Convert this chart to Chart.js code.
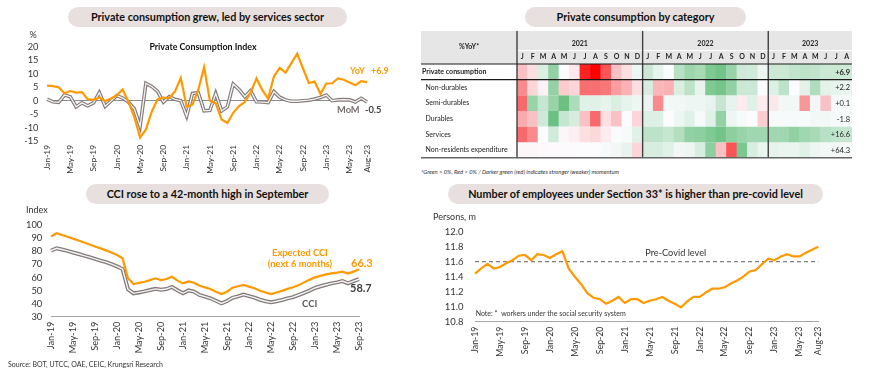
<!DOCTYPE html>
<html>
<head>
<meta charset="utf-8">
<script src="https://cdn.jsdelivr.net/npm/chart.js@4.4.0/dist/chart.umd.min.js"></script>
<style>
  body { margin: 0; width: 870px; height: 381px; background: #fff; position: relative; overflow: hidden; font-family: Lato, sans-serif; }
  .pill { position: absolute; height: 20px; line-height: 20px; background: #e8e0de; border-radius: 10px; text-align: center; font-weight: bold; font-size: 10.8px; color: #111; white-space: nowrap; }
  canvas { position: absolute; }
  .note { position: absolute; white-space: nowrap; color: #333; }
</style>
</head>
<body>
<div class="pill" style="left:68px;top:7px;width:279px">Private consumption grew, led by services sector</div>
<div class="pill" style="left:525px;top:7px;width:221px">Private consumption by category</div>
<div class="pill" style="left:86px;top:184px;width:243px">CCI rose to a 42-month high in September</div>
<div class="pill" style="left:448px;top:184px;width:375px">Number of employees under Section 33* is higher than pre-covid level</div>

<canvas id="pciChart" width="400" height="150" style="left:0;top:30px"></canvas>
<canvas id="heatChart" width="440" height="137" style="left:420px;top:28px"></canvas>
<canvas id="cciChart" width="400" height="165" style="left:0;top:200px"></canvas>
<canvas id="empChart" width="440" height="165" style="left:430px;top:200px"></canvas>

<div class="note" style="left:421px;top:168px;font-size:5.8px;font-style:italic">*Green &gt; 0%, Red &lt; 0% / Darker green (red) indicates stronger (weaker) momentum</div>
<div class="note" style="left:8px;top:360px;font-size:7px">Source: BOT, UTCC, OAE, CEIC, Krungsri Research</div>

<script>
// month labels Jan-19 .. Sep-23
const months = [
  'Jan-19', 'Feb-19', 'Mar-19', 'Apr-19', 'May-19', 'Jun-19', 'Jul-19', 'Aug-19', 'Sep-19', 'Oct-19', 'Nov-19', 'Dec-19',
  'Jan-20', 'Feb-20', 'Mar-20', 'Apr-20', 'May-20', 'Jun-20', 'Jul-20', 'Aug-20', 'Sep-20', 'Oct-20', 'Nov-20', 'Dec-20',
  'Jan-21', 'Feb-21', 'Mar-21', 'Apr-21', 'May-21', 'Jun-21', 'Jul-21', 'Aug-21', 'Sep-21', 'Oct-21', 'Nov-21', 'Dec-21',
  'Jan-22', 'Feb-22', 'Mar-22', 'Apr-22', 'May-22', 'Jun-22', 'Jul-22', 'Aug-22', 'Sep-22', 'Oct-22', 'Nov-22', 'Dec-22',
  'Jan-23', 'Feb-23', 'Mar-23', 'Apr-23', 'May-23', 'Jun-23', 'Jul-23', 'Aug-23', 'Sep-23'
];
const monthsToAug23 = months.slice(0, 56);

// Private consumption index, % (Jan-19 .. Aug-23)
const pciYoY = [
  5.6, 5.4, 5.0, 2.8, 3.6, 3.0, 3.2, 0.6, 0.3, 1.2, -0.2, 0.8,
  2.0, 4.2, -0.4, -6.0, -13.7, -10.7, -4.1, 0.5, 1.2, 1.0, 3.5, 8.5,
  -2.3, -1.5, 4.0, 12.5, 0.0, -1.0, -7.0, -8.3, -4.5, -2.0, -0.5, 3.0,
  8.3, 4.0, 0.8, 9.0, 12.2, 10.5, 14.0, 17.5, 12.0, 6.6, 7.1, 2.5,
  6.4, 6.5, 8.3, 7.8, 6.8, 5.8, 7.3, 6.9
];
const pciMoM = [
  0.6, -0.4, -0.6, 2.1, 1.5, -2.3, -0.8, -1.9, -0.8, 3.0, -2.1, -0.1,
  1.9, 1.0, -0.5, -3.0, -9.5, 6.5, 5.3, 3.5, -0.5, 1.5, 0.5, 0.0,
  -5.7, 2.7, 3.0, -3.8, -3.6, 2.7, -3.8, -2.3, 6.2, 4.2, 1.5, 3.7,
  -0.4, -0.5, -0.7, 3.4, 1.3, 0.3, -0.2, -0.2, 0.0, 0.2, 0.6, 1.2,
  2.1, 0.0, 0.3, 0.4, 0.3, -0.5, 0.9, -0.5
];

// Consumer confidence index (Jan-19 .. Sep-23)
const cciExpected = [
  91.3, 93.9, 92.6, 91.2, 89.8, 88.3, 86.8, 85.3, 83.8, 82.3, 80.8, 79.2,
  77.2, 74.7, 59.4, 55.0, 55.9, 56.8, 58.0, 59.4, 58.1, 58.9, 60.6, 57.6,
  55.5, 57.0, 56.0, 53.7, 52.5, 51.2, 49.1, 47.3, 49.1, 52.2, 53.3, 54.3,
  53.0, 51.8, 49.8, 48.5, 47.3, 48.5, 49.8, 51.3, 52.5, 54.0, 56.3, 58.3,
  60.1, 61.3, 62.4, 63.2, 63.8, 64.5, 63.0, 64.5, 66.3
];
const cciCurrent = [
  80.5, 82.4, 81.5, 80.4, 79.2, 78.0, 76.8, 75.6, 74.3, 73.0, 71.8, 70.2,
  68.5, 66.5, 51.0, 47.9, 48.6, 49.4, 50.4, 51.3, 50.6, 51.2, 52.8, 50.2,
  47.9, 50.1, 49.2, 46.6, 45.4, 44.1, 42.2, 40.2, 42.0, 44.5, 45.6, 46.9,
  45.8, 44.6, 43.0, 41.8, 41.0, 41.8, 42.8, 44.0, 45.0, 46.6, 48.3, 50.0,
  52.0, 53.3, 54.5, 55.5, 56.3, 57.3, 55.6, 57.2, 58.7
];

// Employees under Section 33, million persons (Jan-19 .. Aug-23)
const employees = [
  11.44, 11.51, 11.57, 11.51, 11.53, 11.58, 11.62, 11.68, 11.69, 11.62, 11.70, 11.69,
  11.65, 11.70, 11.74, 11.51, 11.40, 11.30, 11.18, 11.12, 11.10, 11.04, 11.08, 11.13,
  11.05, 11.10, 11.10, 11.05, 11.08, 11.10, 11.13, 11.08, 11.04, 10.99, 11.07, 11.13,
  11.13, 11.19, 11.24, 11.24, 11.26, 11.31, 11.35, 11.40, 11.47, 11.49, 11.57, 11.64,
  11.62, 11.67, 11.70, 11.67, 11.67, 11.72, 11.76, 11.80
];
const preCovidLevel = 11.6;

// heatmap: momentum score per cell (-1 strong red .. +1 strong green), read from cell shades
const hmRows = ['Private consumption', 'Non-durables', 'Semi-durables', 'Durables', 'Services', 'Non-residents expenditure'];
const hmYears = ['2021', '2022', '2023'];
const hmYearMonths = [12, 12, 8];
const hmMonths = [
  'J', 'F', 'M', 'A', 'M', 'J', 'J', 'A', 'S', 'O', 'N', 'D',
  'J', 'F', 'M', 'A', 'M', 'J', 'J', 'A', 'S', 'O', 'N', 'D',
  'J', 'F', 'M', 'A', 'M', 'J', 'J', 'A'
];
const scorePrivate = [-0.3, -0.15, 0.22, 0.7, 0.0, -0.1, -0.92, -1.0, -0.8, -0.3, -0.15, 0.1,
  0.32, 0.14, 0.02, 0.45, 0.62, 0.55, 0.82, 0.9, 0.65, 0.3, 0.28, 0.1,
  0.32, 0.32, 0.38, 0.42, 0.38, 0.32, 0.32, 0.3];
const scoreNonDurables = [-0.58, -0.2, -0.05, 0.68, -0.25, -0.2, -0.72, -0.72, -0.68, -0.48, -0.38, -0.15,
  0.24, -0.35, -0.38, 0.22, 0.42, 0.14, 0.82, 0.88, 0.7, 0.32, 0.32, 0.02,
  0.2, 0.42, 0.0, 0.16, 0.5, 0.16, 0.14, 0.12];
const scoreSemiDurables = [-0.75, 0.65, 0.35, 0.65, 0.95, 0.52, 0.18, 0.18, 0.14, 0.22, 0.14, 0.1,
  0.12, -0.58, 0.07, 0.06, 0.1, 0.1, 0.14, 0.35, 0.14, -0.08, 0.18, -0.08,
  -0.1, 0.06, 0.07, -0.52, 0.06, -0.3, 0.04, 0.03];
const scoreDurables = [-0.42, -0.3, 0.3, 0.95, 0.35, 0.25, -0.3, -0.75, -0.15, -0.3, 0.0, -0.2,
  0.2, 0.2, 0.0, 0.1, 0.18, 0.03, 0.18, 0.68, 0.1, 0.04, 0.0, -0.24,
  0.03, 0.03, 0.04, 0.03, 0.07, 0.06, 0.04, 0.03];
const scoreServices = [-0.75, -0.58, 0.0, 0.28, -0.03, -0.07, -0.15, -0.18, -0.08, 0.02, 0.03, 0.18,
  0.42, 0.42, 0.36, 0.48, 0.7, 0.72, 0.82, 0.9, 0.72, 0.65, 0.6, 0.6,
  0.6, 0.6, 0.7, 0.6, 0.55, 0.45, 0.38, 0.35];
const scoreNonResidents = [-0.03, -0.03, -0.02, -0.01, -0.01, -0.01, 0.0, 0.0, 0.03, 0.06, 0.14, -0.2,
  0.24, 0.24, 0.18, 0.06, 0.1, 0.24, 0.72, -0.3, -0.8, 0.85, 0.24, 0.12,
  0.14, 0.12, 0.12, 0.18, 0.1, 0.07, 0.05, 0.04];
const hmScores = [scorePrivate, scoreNonDurables, scoreSemiDurables, scoreDurables, scoreServices, scoreNonResidents];
const latestYoY = [6.9, 2.2, 0.1, -1.8, 16.6, 64.3];

const ORANGE = '#FF9900';
Chart.defaults.font.family = 'Lato';
Chart.defaults.color = '#333';

function fixWidth(w) { return (scale) => { scale.width = w; }; }
function fixHeight(h) { return (scale) => { scale.height = h; }; }

function everyFourth(last) {
  return function (value, index) {
    return (index % 4 === 0 || index === last) ? this.getLabelForValue(value) : '';
  };
}

function textPlugin(id, items) {
  return {
    id,
    afterDraw(chart) {
      const ctx = chart.ctx;
      ctx.save();
      ctx.textBaseline = 'middle';
      items.forEach((it) => {
        ctx.font = it.font;
        ctx.fillStyle = it.color;
        ctx.textAlign = it.align || 'left';
        ctx.fillText(it.text, it.x, it.y);
      });
      ctx.restore();
    }
  };
}

// hollow grey line = thick grey line with thin light line on top
function hollow(data, outer, inner, w1, w2) {
  return [
    { data, borderColor: inner, borderWidth: w2, pointRadius: 0, tension: 0 },
    { data, borderColor: outer, borderWidth: w1, pointRadius: 0, tension: 0 }
  ];
}

// Private consumption index
new Chart(document.getElementById('pciChart'), {
  type: 'line',
  data: {
    labels: monthsToAug23,
    datasets: [
      { label: 'YoY', data: pciYoY, borderColor: ORANGE, borderWidth: 2.2, pointRadius: 0, tension: 0 },
      ...hollow(pciMoM, '#857b7b', '#f4f4f4', 3.6, 1.3)
    ]
  },
  options: {
    responsive: false,
    animation: false,
    devicePixelRatio: 1,
    layout: { padding: { top: 17, right: 33, left: 0, bottom: 0 } },
    plugins: { legend: { display: false }, tooltip: { enabled: false } },
    scales: {
      x: {
        afterFit: fixHeight(39),
        grid: { display: false, drawTicks: false },
        border: { display: false },
        ticks: { autoSkip: false, minRotation: 90, maxRotation: 90, padding: 4, font: { size: 8.4 }, callback: everyFourth(55) }
      },
      y: {
        min: -15,
        max: 20,
        afterFit: fixWidth(47),
        border: { display: false },
        grid: { drawTicks: false, color: (c) => c.tick.value === 0 ? '#8c8c8c' : 'transparent' },
        ticks: { autoSkip: false, stepSize: 5, padding: 8.5, font: { size: 9.3 } }
      }
    }
  },
  plugins: [textPlugin('pciText', [
    { text: '%', x: 33, y: 5, font: '9px Lato', color: '#333', align: 'center' },
    { text: 'Private Consumption Index', x: 203, y: 17, font: 'bold 8.9px Lato', color: '#111', align: 'center' },
    { text: 'YoY', x: 350, y: 41, font: 'bold 9px Lato', color: ORANGE },
    { text: '+6.9', x: 371, y: 41, font: 'bold 9px Lato', color: ORANGE },
    { text: 'MoM', x: 337, y: 79.5, font: 'bold 9.3px Lato', color: '#7a7070' },
    { text: '-0.5', x: 365, y: 79.5, font: 'bold 9.3px Lato', color: '#404040' }
  ])]
});

// heatmap colours: white -> green for positive, white -> red -> bright red for negative
function mix(a, b, t) {
  return a.map((v, i) => Math.round(v + (b[i] - v) * t));
}
function heatColor(s) {
  const white = [252, 252, 255], green = [99, 190, 123], red = [248, 105, 107], bright = [255, 0, 0];
  let c;
  if (s >= 0) c = mix(white, green, Math.min(s, 1));
  else if (s > -0.75) c = mix(white, red, -s / 0.75);
  else c = mix(red, bright, (-s - 0.75) / 0.25);
  return `rgb(${c[0]},${c[1]},${c[2]})`;
}

const heatDecor = {
  id: 'heatDecor',
  beforeDraw(chart) {
    const { ctx, chartArea: a } = chart;
    const colW = (a.right - a.left) / hmMonths.length;
    ctx.save();
    ctx.fillStyle = '#e6e6e6';
    ctx.fillRect(1, 3, a.right - 1, a.top - 3);
    ctx.strokeStyle = '#fff';
    ctx.lineWidth = 1;
    ctx.beginPath();
    ctx.moveTo(a.left, 22.5);
    ctx.lineTo(a.right, 22.5);
    ctx.stroke();
    ctx.fillStyle = '#222';
    ctx.font = 'bold 7px Lato';
    ctx.textAlign = 'center';
    ctx.textBaseline = 'middle';
    let start = 0;
    hmYears.forEach((yr, i) => {
      ctx.fillText(yr, a.left + (start + hmYearMonths[i] / 2) * colW, 15.5);
      start += hmYearMonths[i];
    });
    ctx.fillText('%YoY*', 49, 19);
    ctx.restore();
  },
  afterDraw(chart) {
    const { ctx, chartArea: a, scales: { y } } = chart;
    const colW = (a.right - a.left) / hmMonths.length;
    ctx.save();
    ctx.strokeStyle = '#404040';
    ctx.lineWidth = 1.4;
    let start = 0;
    hmYearMonths.forEach((n) => {
      const x = a.left + start * colW;
      ctx.beginPath();
      ctx.moveTo(x, 3);
      ctx.lineTo(x, a.bottom);
      ctx.stroke();
      start += n;
    });
    ctx.strokeStyle = '#1a1a1a';
    ctx.lineWidth = 1.2;
    [a.top, y.getPixelForValue(1)].forEach((yy) => {
      ctx.beginPath();
      ctx.moveTo(1, yy);
      ctx.lineTo(a.right, yy);
      ctx.stroke();
    });
    ctx.strokeStyle = '#666';
    ctx.lineWidth = 1.4;
    ctx.beginPath();
    ctx.moveTo(1, a.bottom);
    ctx.lineTo(a.right, a.bottom);
    ctx.stroke();
    ctx.fillStyle = '#222';
    ctx.textAlign = 'right';
    ctx.textBaseline = 'middle';
    latestYoY.forEach((v, r) => {
      ctx.font = (r === 0 ? 'bold ' : '') + '7.5px Lato';
      ctx.fillText((v > 0 ? '+' : '') + v.toFixed(1), a.right - 2, y.getPixelForValue(r + 0.5) + 0.5);
    });
    ctx.restore();
  }
};

new Chart(document.getElementById('heatChart'), {
  type: 'bar',
  data: {
    labels: hmMonths,
    datasets: hmRows.map((name, r) => ({
      label: name,
      data: hmScores[r].map(() => [r, r + 1]),
      backgroundColor: hmScores[r].map(heatColor),
      borderWidth: 0,
      grouped: false,
      barPercentage: 1.04,
      categoryPercentage: 1
    }))
  },
  options: {
    responsive: false,
    animation: false,
    devicePixelRatio: 1,
    layout: { padding: { top: 0, right: 8, left: 2, bottom: 4 } },
    plugins: { legend: { display: false }, tooltip: { enabled: false } },
    scales: {
      x: {
        position: 'top',
        afterFit: fixHeight(36),
        grid: { display: false, drawTicks: false },
        border: { display: false },
        ticks: { autoSkip: false, maxRotation: 0, padding: 3, color: '#222', font: { size: 7, weight: 'bold' } }
      },
      y: {
        min: 0,
        max: hmRows.length,
        reverse: true,
        afterFit: fixWidth(95),
        afterBuildTicks: (scale) => { scale.ticks = hmRows.map((_, i) => ({ value: i + 0.5 })); },
        grid: { display: false, drawTicks: false },
        border: { display: false },
        ticks: {
          autoSkip: false,
          crossAlign: 'far',
          color: '#222',
          font: (c) => ({ size: 7, weight: c.index === 0 ? 'bold' : 'normal' }),
          callback: (v, i) => (i === 0 ? '' : '  ') + hmRows[i]
        }
      }
    }
  },
  plugins: [heatDecor]
});

// Consumer confidence index
new Chart(document.getElementById('cciChart'), {
  type: 'line',
  data: {
    labels: months,
    datasets: [
      { label: 'Expected CCI', data: cciExpected, borderColor: ORANGE, borderWidth: 2.2, pointRadius: 0, tension: 0 },
      ...hollow(cciCurrent, '#857b7b', '#f4f4f4', 4, 1.4)
    ]
  },
  options: {
    responsive: false,
    animation: false,
    devicePixelRatio: 1,
    layout: { padding: { top: 25.3, right: 41, left: 0, bottom: 0 } },
    plugins: { legend: { display: false }, tooltip: { enabled: false } },
    scales: {
      x: {
        afterFit: fixHeight(48.3),
        grid: { display: false, drawTicks: false },
        border: { display: true, color: '#a6a6a6', width: 1 },
        ticks: { autoSkip: false, minRotation: 90, maxRotation: 90, padding: 5, font: { size: 9.2 }, callback: everyFourth(56) }
      },
      y: {
        min: 30,
        max: 100,
        afterFit: fixWidth(51),
        border: { display: false },
        grid: { display: false, drawTicks: false },
        ticks: { autoSkip: false, stepSize: 10, padding: 8.7, font: { size: 9.4 } }
      }
    }
  },
  plugins: [textPlugin('cciText', [
    { text: 'Index', x: 26, y: 10, font: '9px Lato', color: '#333' },
    { text: 'Expected CCI', x: 300, y: 53, font: 'bold 9.3px Lato', color: ORANGE, align: 'center' },
    { text: '(next 6 months)', x: 300, y: 63.5, font: 'bold 9.3px Lato', color: ORANGE, align: 'center' },
    { text: '66.3', x: 351, y: 63.5, font: 'bold 11px Lato', color: ORANGE },
    { text: '58.7', x: 350, y: 88, font: 'bold 11px Lato', color: '#404040' },
    { text: 'CCI', x: 302, y: 104, font: 'bold 9.5px Lato', color: '#595959' }
  ])]
});

// Employees under Section 33
const preCovidLine = {
  id: 'preCovidLine',
  beforeDatasetsDraw(chart) {
    const { ctx, chartArea: a, scales: { y } } = chart;
    const yy = y.getPixelForValue(preCovidLevel);
    ctx.save();
    ctx.strokeStyle = '#7f7f7f';
    ctx.lineWidth = 1.2;
    ctx.setLineDash([4, 3]);
    ctx.beginPath();
    ctx.moveTo(a.left, yy);
    ctx.lineTo(a.right, yy);
    ctx.stroke();
    ctx.restore();
  }
};

new Chart(document.getElementById('empChart'), {
  type: 'line',
  data: {
    labels: monthsToAug23,
    datasets: [
      { label: 'Employees', data: employees, borderColor: ORANGE, borderWidth: 2.2, pointRadius: 0, tension: 0 }
    ]
  },
  options: {
    responsive: false,
    animation: false,
    devicePixelRatio: 1,
    layout: { padding: { top: 31.7, right: 51.7, left: 0, bottom: 0 } },
    plugins: { legend: { display: false }, tooltip: { enabled: false } },
    scales: {
      x: {
        afterFit: fixHeight(43.3),
        grid: { display: false, drawTicks: false },
        border: { display: true, color: '#a6a6a6', width: 1 },
        ticks: { autoSkip: false, minRotation: 90, maxRotation: 90, padding: 5, font: { size: 8.7 }, callback: everyFourth(55) }
      },
      y: {
        min: 10.8,
        max: 12.0,
        afterFit: fixWidth(45),
        border: { display: false },
        grid: { display: false, drawTicks: false },
        ticks: { autoSkip: false, stepSize: 0.2, padding: 11.5, font: { size: 9.5 }, callback: (v) => v.toFixed(1) }
      }
    }
  },
  plugins: [preCovidLine, textPlugin('empText', [
    { text: 'Persons, m', x: 3, y: 17, font: '9px Lato', color: '#333' },
    { text: 'Pre-Covid level', x: 245.7, y: 53, font: '9.2px Lato', color: '#333', align: 'center' },
    { text: 'Note: *  workers under the social security system', x: 45.7, y: 114, font: '7px Lato', color: '#333' }
  ])]
});
</script>
</body>
</html>
